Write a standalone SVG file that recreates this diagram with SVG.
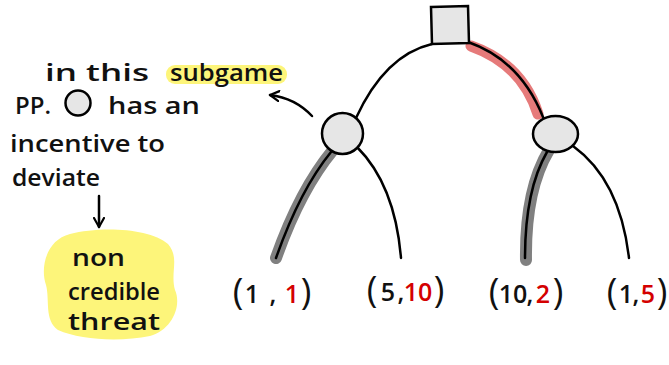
<svg xmlns="http://www.w3.org/2000/svg" width="669" height="365" viewBox="0 0 669 365">
<defs>
<style>
.hw{font-family:"Open Sans","DejaVu Sans",sans-serif;font-weight:600;fill:#111;}
.lf{font-family:"Open Sans","DejaVu Sans",sans-serif;font-weight:600;fill:#111;font-size:25px;text-anchor:middle;}
.pr{font-family:"Open Sans","DejaVu Sans",sans-serif;font-weight:400;fill:#111;font-size:36px;text-anchor:middle;}
.edge{fill:none;stroke:#000;stroke-width:2.5;stroke-linecap:round;}
.gray{fill:none;stroke:#808080;stroke-width:12;stroke-linecap:round;}
.red{fill:none;stroke:#e67a7a;stroke-width:11;stroke-linecap:round;}
.node{fill:#e6e6e6;stroke:#000;stroke-width:2.5;}
.r{fill:#d40000;}
</style>
<marker id="ah" viewBox="0 0 12 12" refX="10" refY="6" markerWidth="12" markerHeight="12" markerUnits="userSpaceOnUse" orient="auto">
<path d="M1,1 L10,6 L1,11" fill="none" stroke="#000" stroke-width="2.2" stroke-linecap="round" stroke-linejoin="round"/>
</marker>
</defs>
<rect width="669" height="365" fill="#fff"/>

<g id="highlights">
<rect x="166" y="65" width="121" height="19" rx="9" fill="#fdf57a"/>
<path d="M70,234 C100,226 150,228 168,244 C180,258 170,272 175,290 C182,306 172,330 150,336 C120,342 80,340 58,330 C44,320 50,300 46,285 C40,268 46,240 70,234 Z" fill="#fdf57a"/>
</g>

<g id="connectors">
<path class="red" d="M471,46 Q522,64 538,114"/>
<path class="gray" d="M333,150 Q300,190 276,258"/>
<path class="gray" d="M549,150 Q525,190 526,260"/>
<path class="edge" d="M432,44 Q385,55 356,118"/>
<path class="edge" d="M468,42 Q520,60 543,117"/>
<path class="edge" d="M331,152 Q300,190 276,258"/>
<path class="edge" d="M357,147 Q395,185 401,258"/>
<path class="edge" d="M547,152 Q525,190 525,258"/>
<path class="edge" d="M573,146 Q620,180 629,258"/>
<path class="edge" d="M312,116 Q295,98 270,95" marker-end="url(#ah)"/>
<path class="edge" d="M99,196 L99,227" marker-end="url(#ah)"/>
</g>

<g id="root"><path class="node" d="M431,7 L468,6 L469,43 L432,44 Z"/></g>
<g id="p1"><circle class="node" cx="342.5" cy="133.5" r="20.5"/></g>
<g id="p2"><ellipse class="node" cx="555.5" cy="134" rx="22.5" ry="18"/></g>

<g id="leaf1">
<text class="pr" x="238" y="304">(</text>
<text class="lf" x="252" y="303">1</text>
<text class="lf" x="273" y="303">,</text>
<text class="lf r" x="292" y="303">1</text>
<text class="pr" x="306" y="304">)</text>
</g>
<g id="leaf2">
<text class="pr" x="372" y="302">(</text>
<text class="lf" x="388" y="301">5</text>
<text class="lf" x="401" y="301">,</text>
<text class="lf r" x="418" y="301">10</text>
<text class="pr" x="439" y="302">)</text>
</g>
<g id="leaf3">
<text class="pr" x="494" y="304">(</text>
<text class="lf" x="513" y="303">10</text>
<text class="lf" x="530" y="303">,</text>
<text class="lf r" x="543" y="303">2</text>
<text class="pr" x="558" y="304">)</text>
</g>
<g id="leaf4">
<text class="pr" x="612" y="304">(</text>
<text class="lf" x="626" y="303">1</text>
<text class="lf" x="636" y="303">,</text>
<text class="lf r" x="648" y="303">5</text>
<text class="pr" x="662" y="304">)</text>
</g>

<g id="note">
<text class="hw" x="45" y="81" font-size="24" textLength="104" lengthAdjust="spacingAndGlyphs">in this</text>
<text class="hw" x="170" y="81" font-size="24" textLength="113" lengthAdjust="spacingAndGlyphs">subgame</text>
<text class="hw" x="15" y="114" font-size="24" textLength="36" lengthAdjust="spacingAndGlyphs">PP.</text>
<circle cx="78" cy="103" r="12.5" fill="#e6e6e6" stroke="#000" stroke-width="2.5"/>
<text class="hw" x="108" y="114" font-size="24" textLength="92" lengthAdjust="spacingAndGlyphs">has an</text>
<text class="hw" x="10" y="152" font-size="24" textLength="155" lengthAdjust="spacingAndGlyphs">incentive to</text>
<text class="hw" x="12" y="186" font-size="24" textLength="88" lengthAdjust="spacingAndGlyphs">deviate</text>
</g>
<g id="threat">
<text class="hw" x="72" y="266" font-size="24" textLength="53" lengthAdjust="spacingAndGlyphs">non</text>
<text class="hw" x="68" y="300" font-size="24" textLength="92" lengthAdjust="spacingAndGlyphs">credible</text>
<text class="hw" x="68" y="330" font-size="24" textLength="92" lengthAdjust="spacingAndGlyphs">threat</text>
</g>
</svg>
